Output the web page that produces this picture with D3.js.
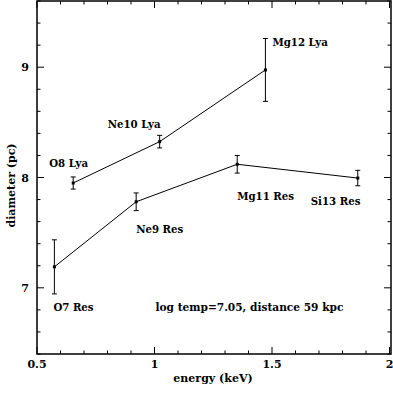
<!DOCTYPE html>
<html>
<head>
<meta charset="utf-8">
<script src="https://cdn.jsdelivr.net/npm/d3@7"></script>
<style>
  html, body { margin: 0; padding: 0; background: #fff; }
  svg { display: block; }
  text { font-family: "DejaVu Serif", "Liberation Serif", serif; font-weight: bold; fill: #000; }
</style>
</head>
<body>
<svg id="chart" width="393" height="394"></svg>
<script>
// ---- data ----
const lyaLabels = ["O8 Lya", "Ne10 Lya", "Mg12 Lya"];
const lyaEnergy = [0.654, 1.022, 1.472];
const lyaDiameter = [7.95, 8.325, 8.975];
const lyaError = [0.055, 0.057, 0.285];

const resLabels = ["O7 Res", "Ne9 Res", "Mg11 Res", "Si13 Res"];
const resEnergy = [0.574, 0.922, 1.352, 1.865];
const resDiameter = [7.19, 7.78, 8.12, 7.995];
const resError = [0.245, 0.08, 0.08, 0.07];

const xTicks = [0.5, 1, 1.5, 2];
const xTickLabels = ["0.5", "1", "1.5", "2"];
const yTicks = [7, 8, 9];
const yTickLabels = ["7", "8", "9"];
const noteText = "log temp=7.05, distance 59 kpc";
const xTitle = "energy (keV)";
const yTitle = "diameter (pc)";

// ---- layout ----
const W = 393, H = 394;
const m = { left: 37, right: 2, top: 1, bottom: 40 };
const svg = d3.select("#chart");
const x = d3.scaleLinear().domain([0.5, 2]).range([m.left, m.left + 352.5]);
const y = d3.scaleLinear().domain([6.4, 9.6]).range([H - m.bottom, m.top]);
const x0 = m.left, x1 = W - m.right, y0 = H - m.bottom, y1 = m.top;

const g = svg.append("g");

// frame
g.append("rect").attr("x", x0).attr("y", y1).attr("width", x1 - x0).attr("height", y0 - y1)
  .attr("fill", "none").attr("stroke", "#000").attr("stroke-width", 1.5);

// ticks (inward, all four sides)
const xMinor = d3.range(0.5, 2.0001, 0.1).map(v => +v.toFixed(2));
const yMinor = d3.range(6.4, 9.6001, 0.2).map(v => +v.toFixed(2));
const isMajor = (v, list) => list.some(t => Math.abs(t - v) < 1e-6);
xMinor.forEach(v => {
  const L = isMajor(v, xTicks) ? 7 : 3.5;
  g.append("line").attr("x1", x(v)).attr("x2", x(v)).attr("y1", y0).attr("y2", y0 - L).attr("stroke", "#000");
  g.append("line").attr("x1", x(v)).attr("x2", x(v)).attr("y1", y1).attr("y2", y1 + L).attr("stroke", "#000");
});
yMinor.forEach(v => {
  const L = isMajor(v, yTicks) ? 7 : 3.5;
  g.append("line").attr("y1", y(v)).attr("y2", y(v)).attr("x1", x0).attr("x2", x0 + L).attr("stroke", "#000");
  g.append("line").attr("y1", y(v)).attr("y2", y(v)).attr("x1", x1).attr("x2", x1 - L).attr("stroke", "#000");
});

// tick labels
xTicks.forEach((v, i) => {
  g.append("text").attr("x", x(v)).attr("y", y0 + 14).attr("text-anchor", "middle")
    .attr("font-size", 11).text(xTickLabels[i]);
});
yTicks.forEach((v, i) => {
  g.append("text").attr("x", x0 - 8).attr("y", y(v) + 4).attr("text-anchor", "end")
    .attr("font-size", 11).text(yTickLabels[i]);
});

// axis titles
g.append("text").attr("x", (x0 + x1) / 2 - 1).attr("y", 382).attr("text-anchor", "middle")
  .attr("font-size", 11).text(xTitle);
g.append("text").attr("transform", `translate(15,${(y0 + y1) / 2 + 8}) rotate(-90)`)
  .attr("text-anchor", "middle").attr("font-size", 11).text(yTitle);

// series
function drawSeries(E, D, Err) {
  const pts = E.map((e, i) => ({ e, d: D[i], err: Err[i] }));
  g.append("path").datum(pts)
    .attr("d", d3.line().x(p => x(p.e)).y(p => y(p.d)))
    .attr("fill", "none").attr("stroke", "#000").attr("stroke-width", 1);
  pts.forEach(p => {
    const cx = x(p.e);
    g.append("line").attr("x1", cx).attr("x2", cx).attr("y1", y(p.d - p.err)).attr("y2", y(p.d + p.err)).attr("stroke", "#000");
    [p.d - p.err, p.d + p.err].forEach(v => {
      g.append("line").attr("x1", cx - 2.5).attr("x2", cx + 2.5).attr("y1", y(v)).attr("y2", y(v)).attr("stroke", "#000");
    });
    g.append("rect").attr("x", cx - 1.5).attr("y", y(p.d) - 1.5).attr("width", 3).attr("height", 3).attr("fill", "#000");
  });
}
drawSeries(lyaEnergy, lyaDiameter, lyaError);
drawSeries(resEnergy, resDiameter, resError);

// point labels (pixel offsets from each point)
const lyaOff = [[-24, -16], [-52, -14], [7, -24]];
const resOff = [[-1, 44], [0, 31], [0, 36], [-47, 27]];
lyaLabels.forEach((t, i) => {
  g.append("text").attr("x", x(lyaEnergy[i]) + lyaOff[i][0]).attr("y", y(lyaDiameter[i]) + lyaOff[i][1])
    .attr("font-size", 10.2).text(t);
});
resLabels.forEach((t, i) => {
  g.append("text").attr("x", x(resEnergy[i]) + resOff[i][0]).attr("y", y(resDiameter[i]) + resOff[i][1])
    .attr("font-size", 10.2).text(t);
});

// note
g.append("text").attr("x", x(0.5) + 118.5).attr("y", 311).attr("font-size", 10.6).text(noteText);
</script>
</body>
</html>
